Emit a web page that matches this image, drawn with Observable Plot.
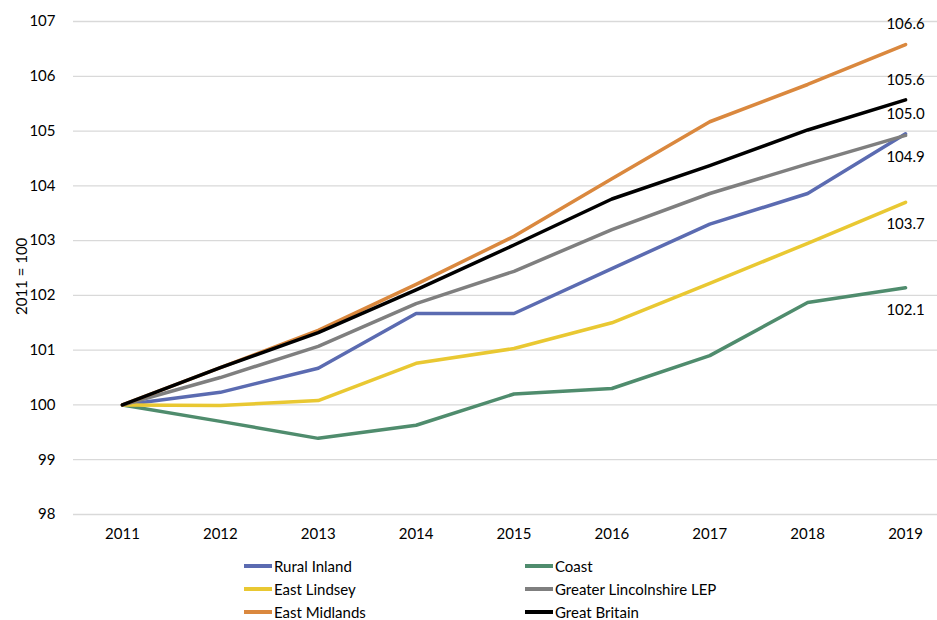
<!DOCTYPE html>
<html><head><meta charset="utf-8">
<script src="https://cdn.jsdelivr.net/npm/d3@7"></script>
<script src="https://cdn.jsdelivr.net/npm/@observablehq/plot@0.6"></script>
<style>
body{margin:0;background:#fff;font-family:Lato,"Open Sans",sans-serif;}
#chart{position:relative;width:937px;height:550px;}
#legend{position:relative;width:937px;height:70px;font-size:15px;color:#000;}
.item{position:absolute;display:flex;align-items:center;height:20px;}
.sw{width:28px;height:4px;margin-right:2px;}
</style></head>
<body>
<div id="chart"></div>
<div id="legend"></div>
<script>
const years = [2011,2012,2013,2014,2015,2016,2017,2018,2019];
const seriesNames = ["Rural Inland","Coast","East Lindsey","Greater Lincolnshire LEP","East Midlands","Great Britain"];
const colors = ["#5b6bb1","#4f8c6d","#e9c832","#7f7f7f","#da883e","#000000"];
const ruralInland = [100,100.23,100.67,101.67,101.67,102.49,103.30,103.86,104.95];
const coast       = [100,99.70,99.39,99.63,100.20,100.30,100.90,101.87,102.14];
const eastLindsey = [100,99.99,100.08,100.76,101.03,101.50,102.22,102.95,103.70];
const greaterLinc = [100,100.50,101.07,101.85,102.44,103.20,103.86,104.40,104.92];
const eastMidlands= [100,100.68,101.36,102.20,103.08,104.13,105.17,105.85,106.58];
const greatBritain= [100,100.68,101.32,102.10,102.92,103.76,104.37,105.02,105.57];
const endLabels = ["105.0","102.1","103.7","104.9","106.6","105.6"];
const labelSide = ["above","below","below","below","above","above"];
const yTicks = [98,99,100,101,102,103,104,105,106,107];

const allValues = [ruralInland,coast,eastLindsey,greaterLinc,eastMidlands,greatBritain];
const rows = [];
seriesNames.forEach((s,i)=>years.forEach((y,j)=>rows.push({series:s,year:y,value:allValues[i][j]})));
const ends = seriesNames.map((s,i)=>({series:s,year:years[years.length-1],value:allValues[i][years.length-1],label:endLabels[i],side:labelSide[i]}));
const colorOf = Object.fromEntries(seriesNames.map((s,i)=>[s,colors[i]]));

const plot = Plot.plot({
  width:937, height:550,
  marginLeft:73, marginRight:0, marginTop:21, marginBottom:36,
  style:{fontFamily:"Lato, 'Open Sans', sans-serif", fontSize:"15px", color:"#000", background:"#fff"},
  x:{type:"linear", domain:[2010.5,2019.5], range:[73,954]},
  y:{domain:[98,107]},
  marks:[
    Plot.gridY(yTicks,{stroke:"#d9d9d9", strokeOpacity:1, strokeWidth:1.3}),
    Plot.axisY(yTicks,{tickSize:0, tickPadding:18, fontSize:15, tickFormat:d=>String(d), label:null}),
    Plot.axisX(years,{tickSize:0, tickPadding:14, fontSize:15, tickFormat:d=>String(d), label:null}),
    Plot.text(["2011 = 100"],{frameAnchor:"left", rotate:-90, dx:-51, dy:47, fontSize:15, fill:"#000"}),
    Plot.line(rows,{x:"year", y:"value", z:"series", stroke:d=>colorOf[d.series], strokeWidth:3.5, strokeLinejoin:"round", strokeLinecap:"round"}),
    Plot.text(ends.filter(d=>d.side==="above"),{x:"year", y:"value", text:"label", dy:-20, dx:0, fontSize:15, fill:"#000"}),
    Plot.text(ends.filter(d=>d.side==="below"),{x:"year", y:"value", text:"label", dy:22, dx:0, fontSize:15, fill:"#000"})
  ]
});
document.getElementById("chart").appendChild(plot);

const legendOrder = [0,1,2,3,4,5];
const legend = document.getElementById("legend");
legendOrder.forEach((i,k)=>{
  const col = k%2, row = Math.floor(k/2);
  const it = document.createElement("div");
  it.className="item";
  it.style.left = (col===0?244:525)+"px";
  it.style.top = (6+row*23)+"px";
  it.innerHTML = `<span class="sw" style="background:${colors[i]}"></span><span>${seriesNames[i]}</span>`;
  legend.appendChild(it);
});
</script>
</body></html>
